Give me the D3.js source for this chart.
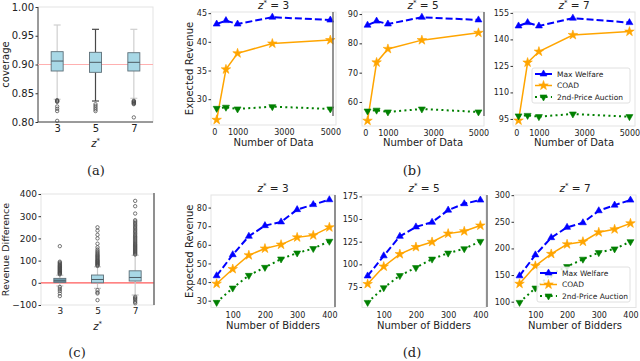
<!DOCTYPE html>
<html lang="en">
<head>
<meta charset="utf-8">
<title>COAD revenue figure</title>
<script src="https://cdn.jsdelivr.net/npm/d3@7"></script>
<style>
  body { margin: 0; background: #fff; }
  svg { font-family: "DejaVu Sans", sans-serif; display: block; }
  .axis path.domain { display: none; }
  .axis line { stroke: #333; }
  .axis text { fill: #222; }
</style>
</head>
<body>
<script>
// ---- data ----
var zValues = [3, 5, 7];
var dataSizes = [100, 500, 1000, 2500, 5000];
var bidderCounts = [50, 100, 150, 200, 250, 300, 350, 400];

// (b) expected revenue vs number of data, one row per z*
var welfareByData = [[43.1, 43.7, 43.1, 44.3, 43.8], [86.2, 87.6, 86.6, 88.9, 88.0], [147.6, 149.5, 147.6, 152.0, 149.5]];
var coadByData    = [[26.4, 35.2, 38.0, 39.7, 40.3], [53.6, 73.5, 78.1, 81.1, 83.6], [94.1, 126.9, 133.1, 142.5, 144.4]];
var secondByData  = [[28.4, 28.6, 28.3, 28.7, 28.3], [56.9, 57.2, 56.6, 57.6, 56.6], [96.7, 97.0, 96.3, 97.8, 96.3]];

// (d) expected revenue vs number of bidders
var welfareByBidders = [[43.4, 54.7, 64.6, 70.3, 72.3, 78.9, 81.6, 84.2], [87.2, 109.4, 130.9, 141.3, 146.4, 159.8, 166.9, 170.9], [148.6, 187.9, 220.2, 239.6, 248.2, 270.7, 281.3, 290.7]];
var coadByBidders    = [[39.1, 47.0, 54.4, 58.0, 60.1, 64.0, 65.1, 69.4], [78.3, 97.6, 111.3, 119.1, 124.7, 133.9, 136.5, 142.8], [133.6, 167.3, 189.7, 207.8, 212.7, 230.3, 235.9, 247.1]];
var secondByBidders  = [[29.1, 36.8, 43.6, 47.9, 52.4, 55.6, 58.0, 61.9], [58.0, 74.2, 87.6, 96.4, 105.8, 112.4, 117.2, 125.3], [98.7, 125.6, 152.0, 166.0, 179.8, 192.1, 199.1, 212.7]];

var seriesNames = ["Max Welfare", "COAD", "2nd-Price Auction"];

// (a) coverage box plots
var covLow  = [0.8395, 0.8365, 0.8412];
var covQ1   = [0.8887, 0.8864, 0.8887];
var covMed  = [0.9060, 0.9038, 0.9038];
var covQ3   = [0.9223, 0.9212, 0.9205];
var covHigh = [0.9687, 0.9612, 0.9612];
var covOutliers = [
  [0.838, 0.837, 0.836, 0.835, 0.827, 0.823, 0.819, 0.802],
  [0.831, 0.828, 0.825, 0.822, 0.819],
  [0.837, 0.836, 0.835, 0.834, 0.833, 0.832, 0.831, 0.808]
];
var covTarget = 0.90;

// (c) revenue difference box plots
var revLow  = [-14, -25, -55];
var revQ1   = [2, 0, 8];
var revMed  = [9, 15, 24];
var revQ3   = [20, 35, 54];
var revHigh = [34, 72, 124];
var revOutliers = [
  [38, 41, 44, 46, 49, 52, 55, 58, 61, 64, 67, 70, 73, 76, 79, 83, 87, 91, 95, 165, -19, -28, -37, -48, -60],
  [76, 79, 82, 85, 88, 91, 94, 97, 100, 103, 107, 111, 115, 119, 123, 127, 132, 137, 143, 150, 160, 176, 200, 216, 235, 250, -33, -43, -48, -78],
  [127, 131, 135, 139, 143, 147, 151, 155, 159, 163, 167, 171, 175, 180, 185, 190, 195, 200, 205, 210, 216, 222, 228, 234, 240, 246, 252, 258, 264, 270, 276, 282, 312, 345, 369, -63, -68, -73, -79, -86, -92]
];

// ---- drawing ----
var W = 640, H = 361;
var svg = d3.select("body").append("svg").attr("width", W).attr("height", H);

var colors = ["#0000ff", "#ffa500", "#008000"];
var dashes = ["7,3", null, "2,3.3"];
var widths = [2, 1.5, 2];

function frame(p) {
  svg.append("rect")
    .attr("x", p.x0).attr("y", p.y0)
    .attr("width", p.x1 - p.x0).attr("height", p.y1 - p.y0)
    .attr("fill", "none").attr("stroke", "#e3e3e3").attr("stroke-width", 1);
}

function zTitle(x, y, z) {
  var t = svg.append("text").attr("x", x).attr("y", y)
    .attr("text-anchor", "middle").attr("font-size", 10.5).attr("fill", "#222");
  t.append("tspan").attr("font-style", "italic").text("z");
  t.append("tspan").attr("dy", -4).attr("font-size", 7).text("*");
  t.append("tspan").attr("dy", 4).text(" = " + z);
}

function marker(kind) {
  if (kind == 1) return d3.symbol().type(d3.symbolStar).size(28)();
  return d3.symbol().type(d3.symbolTriangle).size(21)();
}

function linePanel(p) {
  var x = d3.scaleLinear().domain(p.xDomain).range([p.x0, p.x1]);
  var y = d3.scaleLinear().domain(p.yDomain).range([p.y1, p.y0]);
  frame(p);

  svg.append("g").attr("class", "axis")
    .attr("transform", "translate(" + p.x0 + ",0)")
    .call(d3.axisLeft(y).tickValues(p.yTicks).tickSize(2.5).tickPadding(1.5))
    .attr("font-size", 8).attr("font-family", null);
  svg.append("g").attr("class", "axis")
    .attr("transform", "translate(0," + p.y1 + ")")
    .call(d3.axisBottom(x).tickValues(p.xTicks).tickFormat(d3.format("d")).tickSize(0).tickPadding(p.xPad))
    .attr("font-size", 8).attr("font-family", null);

  var line = d3.line().x(function(d) { return x(d[0]); }).y(function(d) { return y(d[1]); });
  p.series.forEach(function(vals, k) {
    var pts = p.xs.map(function(v, i) { return [v, vals[i]]; });
    svg.append("path").datum(pts).attr("d", line)
      .attr("fill", "none").attr("stroke", colors[k])
      .attr("stroke-width", widths[k])
      .attr("stroke-dasharray", dashes[k]);
    svg.selectAll(null).data(pts).enter().append("path")
      .attr("d", marker(k))
      .attr("transform", function(d) {
        return "translate(" + x(d[0]) + "," + y(d[1]) + ")" + (k == 2 ? " rotate(180)" : "");
      })
      .attr("fill", colors[k]).attr("stroke", colors[k]).attr("stroke-width", 0.6);
  });

  zTitle((p.x0 + p.x1) / 2, p.y0 - 3, p.z);

  svg.append("text").attr("x", (p.x0 + p.x1) / 2).attr("y", p.xLabelY)
    .attr("text-anchor", "middle").attr("font-size", 10).attr("fill", "#222")
    .text(p.xLabel);
  if (p.yLabel) {
    svg.append("text")
      .attr("transform", "translate(" + p.yLabelX + "," + (p.y0 + p.y1) / 2 + ") rotate(-90)")
      .attr("text-anchor", "middle").attr("font-size", 10).attr("fill", "#222")
      .text(p.yLabel);
  }
  if (p.legend) {
    var L = p.legend;
    svg.append("rect").attr("x", L.x).attr("y", L.y).attr("width", L.w).attr("height", L.h)
      .attr("rx", 2).attr("fill", "#fff").attr("fill-opacity", 0.85)
      .attr("stroke", "#d8d8d8").attr("stroke-width", 0.8);
    seriesNames.forEach(function(name, k) {
      var yy = L.y + 6 + k * L.step;
      svg.append("line").attr("x1", L.x + 3).attr("x2", L.x + 20).attr("y1", yy).attr("y2", yy)
        .attr("stroke", colors[k]).attr("stroke-width", widths[k]).attr("stroke-dasharray", dashes[k]);
      svg.append("path").attr("d", marker(k))
        .attr("transform", "translate(" + (L.x + 11.5) + "," + yy + ")" + (k == 2 ? " rotate(180)" : ""))
        .attr("fill", colors[k]).attr("stroke", colors[k]).attr("stroke-width", 0.6);
      svg.append("text").attr("x", L.x + 25).attr("y", yy + 2.7)
        .attr("font-size", 7.5).attr("fill", "#222").text(name);
    });
  }
}

function boxPanel(p) {
  var x = d3.scalePoint().domain(zValues).range([p.x0, p.x1]).padding(0.5);
  var y = d3.scaleLinear().domain(p.yDomain).range([p.y1, p.y0]);
  frame(p);

  svg.append("g").attr("class", "axis")
    .attr("transform", "translate(" + p.x0 + ",0)")
    .call(d3.axisLeft(y).tickValues(p.yTicks).tickFormat(p.fmt).tickSize(2.5).tickPadding(1.5))
    .attr("font-size", p.fs).attr("font-family", null);
  svg.append("g").attr("class", "axis")
    .attr("transform", "translate(0," + p.y1 + ")")
    .call(d3.axisBottom(x).tickSize(0).tickPadding(p.xPad))
    .attr("font-size", p.fs).attr("font-family", null);

  if (p.leftSpine) {
    svg.append("line").attr("x1", p.x0).attr("x2", p.x0).attr("y1", p.y0).attr("y2", p.y1)
      .attr("stroke", "#444").attr("stroke-width", 1);
    svg.append("line").attr("x1", p.x0).attr("x2", p.x1).attr("y1", p.y1).attr("y2", p.y1)
      .attr("stroke", "#444").attr("stroke-width", 1);
  }

  svg.append("line").attr("x1", p.x0).attr("x2", p.x1)
    .attr("y1", y(p.ref)).attr("y2", y(p.ref))
    .attr("stroke", p.refColor).attr("stroke-width", p.refWidth);

  var hw = 6, cw = 3.5;
  zValues.forEach(function(z, i) {
    var cx = x(z);
    var wc = p.whisker[i];
    svg.append("line").attr("x1", cx).attr("x2", cx).attr("y1", y(p.q3[i])).attr("y2", y(p.high[i]))
      .attr("stroke", wc).attr("stroke-width", 1.2);
    svg.append("line").attr("x1", cx).attr("x2", cx).attr("y1", y(p.q1[i])).attr("y2", y(p.low[i]))
      .attr("stroke", wc).attr("stroke-width", 1.2);
    [p.high[i], p.low[i]].forEach(function(v) {
      svg.append("line").attr("x1", cx - cw).attr("x2", cx + cw).attr("y1", y(v)).attr("y2", y(v))
        .attr("stroke", wc).attr("stroke-width", 1.2);
    });
    svg.append("rect").attr("x", cx - hw).attr("width", 2 * hw)
      .attr("y", y(p.q3[i])).attr("height", y(p.q1[i]) - y(p.q3[i]))
      .attr("fill", p.fill[i]).attr("stroke", "#5d6f78").attr("stroke-width", 0.9);
    svg.append("line").attr("x1", cx - hw).attr("x2", cx + hw)
      .attr("y1", y(p.med[i])).attr("y2", y(p.med[i]))
      .attr("stroke", "#4c5c64").attr("stroke-width", 1);
    svg.selectAll(null).data(p.outliers[i]).enter().append("circle")
      .attr("cx", cx).attr("cy", function(d) { return y(d); }).attr("r", 1.7)
      .attr("fill", "none").attr("stroke", "#4a4a4a").attr("stroke-width", 0.75);
  });

  var lab = svg.append("text").attr("x", (p.x0 + p.x1) / 2).attr("y", p.xLabelY)
    .attr("text-anchor", "middle").attr("font-size", 10).attr("fill", "#222");
  lab.append("tspan").attr("font-style", "italic").text("z");
  lab.append("tspan").attr("dy", -4).attr("font-size", 7).text("*");

  svg.append("text")
    .attr("transform", "translate(" + p.yLabelX + "," + (p.y0 + p.y1) / 2 + ") rotate(-90)")
    .attr("text-anchor", "middle").attr("font-size", p.labFs).attr("fill", "#222")
    .text(p.yLabel);
}

// (a)
boxPanel({
  x0: 38, x1: 153, y0: 7, y1: 122, yDomain: [0.80, 1.00],
  yTicks: [0.80, 0.85, 0.90, 0.95, 1.00], fmt: d3.format(".2f"), fs: 10, labFs: 10,
  xPad: 2.5, xLabelY: 147, yLabelX: 9, yLabel: "coverage", leftSpine: true,
  low: covLow, q1: covQ1, med: covMed, q3: covQ3, high: covHigh, outliers: covOutliers,
  ref: covTarget, refColor: "#ffb0b0", refWidth: 1.1,
  whisker: ["#cfcfcf", "#484848", "#cfcfcf"], fill: ["#a8d8e6", "#a8d8e6", "#a8d8e6"]
});

// (c)
boxPanel({
  x0: 41, x1: 154, y0: 194, y1: 305, yDomain: [-100, 400],
  yTicks: [-100, 0, 100, 200, 300, 400], fmt: function(d) { return d < 0 ? "\u2212" + (-d) : d; },
  fs: 9, labFs: 9.5,
  xPad: 2.5, xLabelY: 330, yLabelX: 9, yLabel: "Revenue Difference", leftSpine: false,
  low: revLow, q1: revQ1, med: revMed, q3: revQ3, high: revHigh, outliers: revOutliers,
  ref: 0, refColor: "#ff5a5a", refWidth: 1.3,
  whisker: ["#c8c8c8", "#c8c8c8", "#c8c8c8"], fill: ["#6f98a8", "#a8d8e6", "#a8d8e6"]
});

// (b)
var topPanels = [
  { x0: 211, x1: 336, yDomain: [25.5, 45.2], yTicks: [30, 35, 40, 45], y0: 12, y1: 125 },
  { x0: 362, x1: 484, yDomain: [51.8, 90.7], yTicks: [60, 70, 80, 90], y0: 12, y1: 126 },
  { x0: 513, x1: 635, yDomain: [91, 155.5], yTicks: [95, 110, 125, 140, 155], y0: 12, y1: 126 }
];
topPanels.forEach(function(p, i) {
  p.xDomain = [-145, 5245];
  p.xTicks = [0, 1000, 3000, 5000];
  p.xs = dataSizes;
  p.series = [welfareByData[i], coadByData[i], secondByData[i]];
  p.z = zValues[i];
  p.xPad = 4;
  p.xLabel = "Number of Data";
  p.xLabelY = 146;
  if (i == 0) { p.yLabel = "Expected Revenue"; p.yLabelX = 193; }
  if (i == 2) p.legend = { x: 532, y: 68, w: 98, h: 35, step: 11.5 };
  linePanel(p);
});

// (d)
var bottomPanels = [
  { x0: 211, x1: 335, yDomain: [26.35, 86.75], yTicks: [30, 40, 50, 60, 70, 80] },
  { x0: 362, x1: 486, yDomain: [52.4, 176.5], yTicks: [75, 100, 125, 150, 175] },
  { x0: 514, x1: 636, yDomain: [89.1, 300.3], yTicks: [100, 150, 200, 250, 300] }
];
bottomPanels.forEach(function(p, i) {
  p.y0 = 195; p.y1 = 307.5;
  p.xDomain = [32.5, 417.5];
  p.xTicks = [100, 200, 300, 400];
  p.xs = bidderCounts;
  p.series = [welfareByBidders[i], coadByBidders[i], secondByBidders[i]];
  p.z = zValues[i];
  p.xPad = 5;
  p.xLabel = "Number of Bidders";
  p.xLabelY = 329;
  if (i == 0) { p.yLabel = "Expected Revenue"; p.yLabelX = 193; }
  if (i == 2) p.legend = { x: 537, y: 267, w: 93, h: 35, step: 11.5 };
  linePanel(p);
});

// dark separators between sub-figures
var separators = [[333, 12, 116], [484, 12, 116], [154, 193, 305], [335, 195, 307], [487, 195, 307]];
separators.forEach(function(s) {
  svg.append("line").attr("x1", s[0]).attr("x2", s[0]).attr("y1", s[1]).attr("y2", s[2])
    .attr("stroke", "#666").attr("stroke-width", 1.4);
});

// sub-figure captions
var captions = [["(a)", 96, 175], ["(b)", 412, 175], ["(c)", 77, 357], ["(d)", 412, 357]];
captions.forEach(function(c) {
  svg.append("text").attr("x", c[1]).attr("y", c[2]).attr("text-anchor", "middle")
    .attr("font-family", "DejaVu Serif, serif").attr("font-size", 13).attr("fill", "#222")
    .text(c[0]);
});
</script>
</body>
</html>
